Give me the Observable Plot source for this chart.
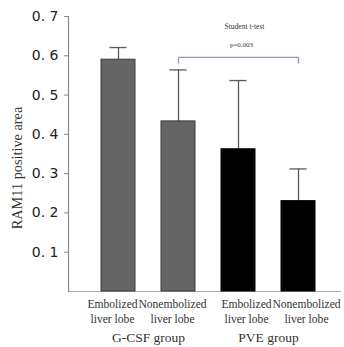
<!DOCTYPE html>
<html>
<head>
<meta charset="utf-8">
<script src="https://cdn.jsdelivr.net/npm/d3@7"></script>
<script src="https://cdn.jsdelivr.net/npm/@observablehq/plot@0.6"></script>
<style>
  html, body { margin: 0; padding: 0; background: #fff; }
  #chart { width: 344px; height: 347px; }
</style>
</head>
<body>
<div id="chart"></div>
<script>
// ---- data ----
const keys = ["gcsf-emb", "gcsf-non", "pve-emb", "pve-non"];
const groups = ["G-CSF", "G-CSF", "PVE", "PVE"];
const tickLabels = ["Embolized\nliver lobe", "Nonembolized\nliver lobe", "Embolized\nliver lobe", "Nonembolized\nliver lobe"];
const means = [0.59, 0.433, 0.362, 0.23];
const errors = [0.031, 0.131, 0.175, 0.082];
const groupNames = ["G-CSF", "PVE"];
const groupLabels = ["G-CSF group", "PVE group"];
const groupFirstKey = ["gcsf-emb", "pve-emb"];
const yTicks = [0.1, 0.2, 0.3, 0.4, 0.5, 0.6, 0.7];
const yTitle = "RAM11 positive area";
const comparison = [{from: "gcsf-non", to: "pve-non", test: "Student t-test", p: "p=0.003"}];

// ---- build table ----
const data = keys.map((k, i) => ({key: k, group: groups[i], label: tickLabels[i], mean: means[i], err: errors[i]}));
const groupData = groupNames.map((g, i) => ({group: g, label: groupLabels[i], key: groupFirstKey[i]}));
const fillOf = {"G-CSF": "#656565", "PVE": "#000000"};
const strokeOf = {"G-CSF": "#3a3a3a", "PVE": "#000000"};
const serif = "'Liberation Serif', 'Times New Roman', serif";

const plot = Plot.plot({
  width: 344,
  height: 347,
  marginLeft: 68,
  marginRight: 3,
  marginTop: 16,
  marginBottom: 56,
  style: {background: "#fff", color: "#222"},
  x: {type: "band", domain: keys, padding: 0.433, insetLeft: 7, axis: null},
  y: {domain: [0, 0.7], axis: null},
  marks: [
    Plot.ruleY([0], {stroke: "#aaa", strokeWidth: 1.2}),
    Plot.frame({anchor: "left", stroke: "#888", strokeWidth: 1.2}),
    Plot.axisY({
      ticks: yTicks,
      tickFormat: d => d.toFixed(1).replace(".", ". "),
      tickSize: 4,
      tickPadding: 6,
      stroke: "#888",
      fill: "#222",
      fontSize: 14,
      fontFamily: "'DejaVu Sans', sans-serif",
      label: null
    }),
    Plot.text([yTitle], {
      frameAnchor: "left",
      textAnchor: "middle",
      rotate: -90,
      dx: -51,
      dy: 14,
      fontSize: 14.3,
      fontFamily: serif,
      fill: "#333"
    }),
    Plot.ruleX(data, {x: "key", y1: "mean", y2: d => d.mean + d.err, stroke: "#5a5a5a", strokeWidth: 1.3}),
    Plot.tickY(data, {x: "key", y: d => d.mean + d.err, insetLeft: 8.5, insetRight: 8.5, stroke: "#5a5a5a", strokeWidth: 1.3}),
    Plot.barY(data, {x: "key", y: "mean", fill: d => fillOf[d.group], stroke: d => strokeOf[d.group], strokeWidth: 1}),
    // bracket
    Plot.link(comparison, {x1: "from", x2: "to", y1: 0.596, y2: 0.596, stroke: "#9a93ac", strokeWidth: 1.3}),
    Plot.link(comparison, {x1: "from", x2: "from", y1: 0.596, y2: 0.58, stroke: "#9a93ac", strokeWidth: 1.3}),
    Plot.link(comparison, {x1: "to", x2: "to", y1: 0.596, y2: 0.58, stroke: "#9a93ac", strokeWidth: 1.3}),
    Plot.text(comparison, {x: "to", y: 0.674, text: "test", dx: -54, fontSize: 7.5, fontFamily: serif, fill: "#333"}),
    Plot.text(comparison, {x: "to", y: 0.628, text: "p", dx: -57, fontSize: 7, fontFamily: serif, fill: "#333"}),
    // x tick labels
    Plot.text(data.filter(d => d.group === "G-CSF"), {x: "key", y: 0, text: "label", dx: -6, dy: 6, lineAnchor: "top", lineHeight: 1.27, fontSize: 11.6, fontFamily: serif, fill: "#333"}),
    Plot.text(data.filter(d => d.group === "PVE"), {x: "key", y: 0, text: "label", dx: 8, dy: 6, lineAnchor: "top", lineHeight: 1.27, fontSize: 11.6, fontFamily: serif, fill: "#333"}),
    // group labels
    Plot.text(groupData, {x: "key", y: 0, text: "label", dx: 30, dy: 46, lineAnchor: "middle", fontSize: 13.5, fontFamily: serif, fill: "#333"})
  ]
});
document.getElementById("chart").appendChild(plot);
</script>
</body>
</html>
